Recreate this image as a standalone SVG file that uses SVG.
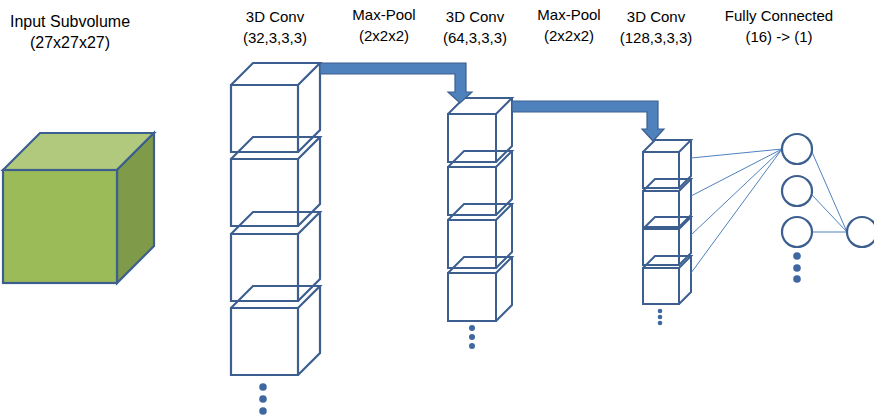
<svg xmlns="http://www.w3.org/2000/svg" width="874" height="415" viewBox="0 0 874 415">
<defs>
<style>
text{font-family:"Liberation Sans",Arial,sans-serif;font-size:15px;fill:#000;text-anchor:middle}
.big{font-size:16px}
.cube{fill:none;stroke:#3C5F8F;stroke-width:2.2;stroke-linejoin:miter}
.cube2{fill:none;stroke:#3C5F8F;stroke-width:2;stroke-linejoin:miter}
.dot{fill:#3F67A0}
.arrow{fill:#4F81BD;stroke:#3C5F8F;stroke-width:1.2}
.fc{stroke:#4F81BD;stroke-width:1;fill:none}
.neuron{fill:#fff;stroke:#3C5F8F;stroke-width:2.2}
</style>
</defs>
<rect width="874" height="415" fill="#fff"/>

<g id="labels">
<text class="big" x="70" y="27">Input Subvolume</text>
<text class="big" x="70" y="48">(27x27x27)</text>
<text x="275" y="22">3D Conv</text>
<text x="275" y="43">(32,3,3,3)</text>
<text x="384" y="20">Max-Pool</text>
<text x="384" y="41">(2x2x2)</text>
<text x="475" y="22">3D Conv</text>
<text x="475" y="43">(64,3,3,3)</text>
<text x="569" y="20">Max-Pool</text>
<text x="569" y="41">(2x2x2)</text>
<text x="656" y="22">3D Conv</text>
<text x="656" y="43">(128,3,3,3)</text>
<text x="779" y="21">Fully Connected</text>
<text x="779" y="42">(16) -&gt; (1)</text>
</g>

<g id="input-cube">
<polygon points="3,170 40,133 154,133 117,170" fill="#B0C97C" stroke="#3C5F8F" stroke-width="2.2"/>
<polygon points="117,170 154,133 154,246 117,283" fill="#7F9A48" stroke="#3C5F8F" stroke-width="2.2"/>
<rect x="3" y="170" width="114" height="113" fill="#9BBB59" stroke="#3C5F8F" stroke-width="2.2"/>
</g>

<g id="conv1">
<path class="cube" d="M231,85h67v67h-67z M231,85l22,-22h67l-22,22 M320,63v67l-22,22"/>
<path class="cube" d="M231,159h67v67h-67z M231,159l22,-22h67l-22,22 M320,137v67l-22,22"/>
<path class="cube" d="M231,234h67v67h-67z M231,234l22,-22h67l-22,22 M320,212v67l-22,22"/>
<path class="cube" d="M231,308h67v67h-67z M231,308l22,-22h67l-22,22 M320,286v67l-22,22"/>
<circle class="dot" cx="263" cy="387" r="3.8"/>
<circle class="dot" cx="263" cy="399" r="3.8"/>
<circle class="dot" cx="263" cy="411" r="3.8"/>
</g>

<g id="conv2">
<path class="cube2" d="M448,114h48v48h-48z M448,114l16,-16h48l-16,16 M512,98v48l-16,16"/>
<path class="cube2" d="M448,167h48v48h-48z M448,167l16,-16h48l-16,16 M512,151v48l-16,16"/>
<path class="cube2" d="M448,220h48v48h-48z M448,220l16,-16h48l-16,16 M512,204v48l-16,16"/>
<path class="cube2" d="M448,273h48v48h-48z M448,273l16,-16h48l-16,16 M512,257v48l-16,16"/>
<circle class="dot" cx="472" cy="328" r="3"/>
<circle class="dot" cx="472" cy="337" r="3"/>
<circle class="dot" cx="472" cy="346" r="3"/>
</g>

<g id="conv3">
<path class="cube2" d="M643,152h36v36h-36z M643,152l12,-12h36l-12,12 M691,140v36l-12,12"/>
<path class="cube2" d="M643,191h36v36h-36z M643,191l12,-12h36l-12,12 M691,179v36l-12,12"/>
<path class="cube2" d="M643,229h36v36h-36z M643,229l12,-12h36l-12,12 M691,217v36l-12,12"/>
<path class="cube2" d="M643,268h36v36h-36z M643,268l12,-12h36l-12,12 M691,256v36l-12,12"/>
<circle class="dot" cx="660" cy="311" r="2.3"/>
<circle class="dot" cx="660" cy="317" r="2.3"/>
<circle class="dot" cx="660" cy="323" r="2.3"/>
</g>

<g id="connectors">
<polygon class="arrow" points="320,63 466,63 466,92 472,92 460,103 448,92 455,92 455,74 320,74"/>
<polygon class="arrow" points="512,101 658,101 658,129 664,129 653,141 642,129 647,129 647,112 512,112"/>
<line class="fc" x1="691" y1="158" x2="782" y2="149"/>
<line class="fc" x1="691" y1="196" x2="782" y2="149"/>
<line class="fc" x1="691" y1="235" x2="782" y2="149"/>
<line class="fc" x1="691" y1="273" x2="782" y2="149"/>
<line class="fc" x1="812" y1="152" x2="847" y2="232"/>
<line class="fc" x1="812" y1="195" x2="847" y2="232"/>
<line class="fc" x1="812" y1="232" x2="847" y2="232"/>
</g>

<g id="fc-layer">
<circle class="neuron" cx="797" cy="149" r="15"/>
<circle class="neuron" cx="797" cy="191" r="15"/>
<circle class="neuron" cx="797" cy="232" r="15"/>
<circle class="dot" cx="797" cy="256" r="3.8"/>
<circle class="dot" cx="797" cy="268" r="3.8"/>
<circle class="dot" cx="797" cy="279" r="3.8"/>
</g>

<g id="output-node">
<circle class="neuron" cx="862" cy="232" r="15"/>
</g>
</svg>
